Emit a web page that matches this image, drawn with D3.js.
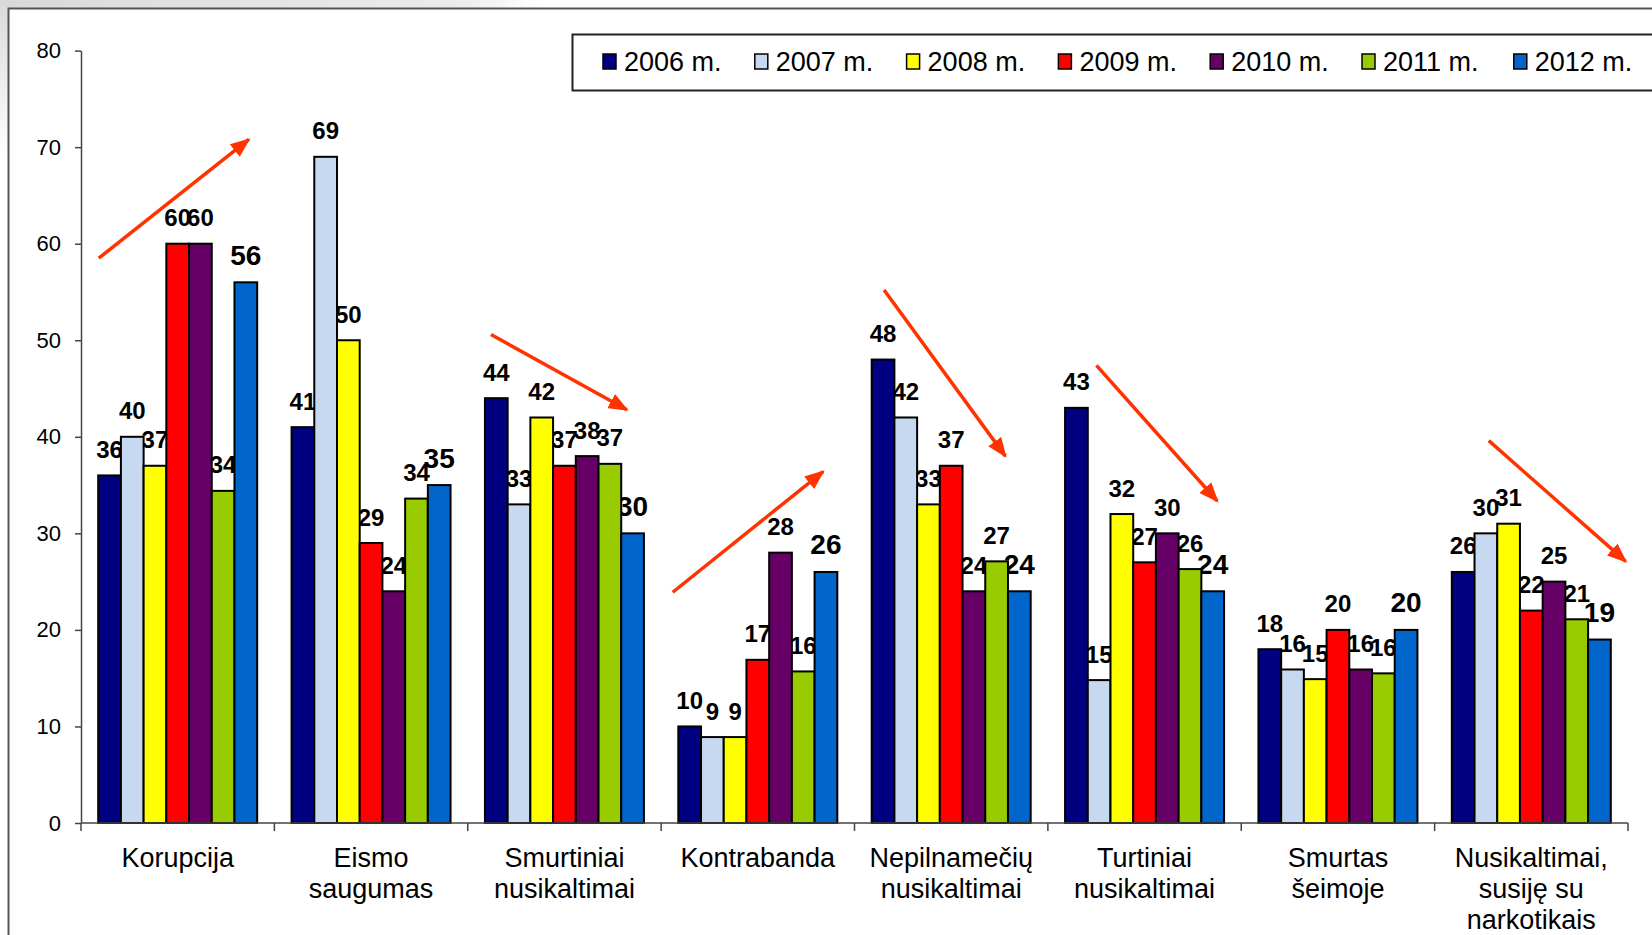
<!DOCTYPE html>
<html>
<head>
<meta charset="utf-8">
<script src="https://cdn.jsdelivr.net/npm/d3@7"></script>
<style>
  body { margin: 0; background: #fff; }
  svg { display: block; font-family: "Liberation Sans", Arial, sans-serif; }
</style>
</head>
<body>
<div id="chart"></div>
<script>
// categories (each label split in lines)
var categories = ['Korupcija', 'Eismo saugumas', 'Smurtiniai nusikaltimai', 'Kontrabanda',
    'Nepilnamečių nusikaltimai', 'Turtiniai nusikaltimai', 'Smurtas šeimoje', 'Nusikaltimai, susiję su narkotikais']
var catLines = [['Korupcija'], ['Eismo', 'saugumas'], ['Smurtiniai', 'nusikaltimai'], ['Kontrabanda'],
    ['Nepilnamečių', 'nusikaltimai'], ['Turtiniai', 'nusikaltimai'], ['Smurtas', 'šeimoje'],
    ['Nusikaltimai,', 'susiję su', 'narkotikais']]

var years = ['2006 m.', '2007 m.', '2008 m.', '2009 m.', '2010 m.', '2011 m.', '2012 m.']
var colors = ['#000080', '#c6d9f0', '#ffff00', '#ff0000', '#660066', '#99cc00', '#0066cc']

// values per year, in category order
var v2006 = [36, 41, 44, 10, 48, 43, 18, 26]
var v2007 = [40, 69, 33, 8.9, 42, 14.8, 15.9, 30]
var v2008 = [37, 50, 42, 8.9, 33, 32, 14.9, 31]
var v2009 = [60, 29, 37, 16.9, 37, 27, 20, 22]
var v2010 = [60, 24, 38, 28, 24, 30, 15.9, 25]
var v2011 = [34.4, 33.6, 37.2, 15.7, 27.1, 26.3, 15.5, 21.1]
var v2012 = [56, 35, 30, 26, 24, 24, 20, 19]
var series = [v2006, v2007, v2008, v2009, v2010, v2011, v2012]

var yTicks = [0, 10, 20, 30, 40, 50, 60, 70, 80]

// trend arrows: category, start/end position inside band (0..1) and value
var arrows = [
    { cat: 0, f0: 0.092, v0: 58.5, f1: 0.868, v1: 70.8 },
    { cat: 2, f0: 0.12, v0: 50.6, f1: 0.823, v1: 42.8 },
    { cat: 3, f0: 0.06, v0: 23.9, f1: 0.838, v1: 36.4 },
    { cat: 4, f0: 0.153, v0: 55.2, f1: 0.78, v1: 38.0 },
    { cat: 5, f0: 0.251, v0: 47.4, f1: 0.876, v1: 33.35 },
    { cat: 7, f0: 0.28, v0: 39.6, f1: 0.988, v1: 27.1 }
]

var W = 1652, H = 935
var plotLeft = 81, plotRight = 1628, plotTop = 50.6, plotBottom = 823

var svg = d3.select('#chart').append('svg')
    .attr('width', W)
    .attr('height', H)

var defs = svg.append('defs')
var grad = defs.append('linearGradient').attr('id', 'bgfade')
grad.append('stop').attr('offset', '0%').attr('stop-color', '#d9d9d9')
grad.append('stop').attr('offset', '85%').attr('stop-color', '#ececec')
grad.append('stop').attr('offset', '100%').attr('stop-color', '#fff')
var gradV = defs.append('linearGradient').attr('id', 'bgfadev')
    .attr('x1', 0).attr('y1', 0).attr('x2', 0).attr('y2', 1)
gradV.append('stop').attr('offset', '0%').attr('stop-color', '#d9d9d9')
gradV.append('stop').attr('offset', '100%').attr('stop-color', '#fff')

defs.append('marker')
    .attr('id', 'head')
    .attr('markerUnits', 'userSpaceOnUse')
    .attr('viewBox', '0 0 20 16')
    .attr('refX', 18).attr('refY', 8)
    .attr('markerWidth', 20).attr('markerHeight', 16)
    .attr('orient', 'auto')
    .append('path')
    .attr('d', 'M0,0 L20,8 L0,16 Z')
    .attr('fill', '#ff3300')

// background outside the frame
svg.append('rect').attr('width', W).attr('height', H).attr('fill', '#fff')
svg.append('rect').attr('x', 0).attr('y', 0).attr('width', 540).attr('height', 8).attr('fill', 'url(#bgfade)')
svg.append('rect').attr('x', 0).attr('y', 0).attr('width', 8).attr('height', 160).attr('fill', 'url(#bgfadev)')

// frame
svg.append('path')
    .attr('d', 'M8.5,' + H + ' V8.5 H' + W)
    .attr('fill', 'none')
    .attr('stroke', '#555')
    .attr('stroke-width', 2)

// scales
var y = d3.scaleLinear().domain([0, 80]).range([plotBottom, plotTop])
var x0 = d3.scaleBand().domain(categories).range([plotLeft, plotRight])
var x1 = d3.scaleBand().domain(years).range([0, x0.bandwidth()])
    .paddingInner(0).paddingOuter(0.757)

// y axis
var yAxis = d3.axisLeft(y)
    .tickValues(yTicks)
    .tickSize(6)
    .tickSizeOuter(0)
    .tickPadding(14)
var gy = svg.append('g')
    .attr('transform', 'translate(' + plotLeft + ',0)')
    .call(yAxis)
gy.select('.domain').attr('stroke', '#444').attr('stroke-width', 1.5)
gy.selectAll('.tick line').attr('stroke', '#444').attr('stroke-width', 1.5)
gy.selectAll('.tick text')
    .attr('fill', '#000')
    .style('font-size', '22px')
    .style('font-family', '"Liberation Sans", Arial, sans-serif')

// arrows drawn under the labels and bars
svg.append('g').selectAll('line')
    .data(arrows)
    .enter().append('line')
    .attr('x1', function (d) { return x0(categories[d.cat]) + d.f0 * x0.step() })
    .attr('y1', function (d) { return y(d.v0) })
    .attr('x2', function (d) { return x0(categories[d.cat]) + d.f1 * x0.step() })
    .attr('y2', function (d) { return y(d.v1) })
    .attr('stroke', '#ff3300')
    .attr('stroke-width', 3.5)
    .attr('marker-end', 'url(#head)')

// flatten data
var flat = []
series.forEach(function (vals, si) {
    vals.forEach(function (v, ci) {
        flat.push({ cat: categories[ci], year: years[si], si: si, v: v })
    })
})

// labels first, so the neighbouring bars hide part of them
svg.append('g').selectAll('text')
    .data(flat)
    .enter().append('text')
    .attr('x', function (d) { return x0(d.cat) + x1(d.year) + x1.bandwidth() / 2 })
    .attr('y', function (d) { return y(d.v) - 17.5 })
    .attr('text-anchor', 'middle')
    .style('font-weight', 'bold')
    .style('font-size', function (d) { return d.si === 6 ? '28px' : '24px' })
    .text(function (d) { return Math.round(d.v) })

// bars
svg.append('g').selectAll('rect')
    .data(flat)
    .enter().append('rect')
    .attr('x', function (d) { return x0(d.cat) + x1(d.year) })
    .attr('y', function (d) { return y(d.v) })
    .attr('width', x1.bandwidth())
    .attr('height', function (d) { return y(0) - y(d.v) })
    .attr('fill', function (d) { return colors[d.si] })
    .attr('stroke', '#000')
    .attr('stroke-width', 2)

// x axis line with ticks on category borders
var gx = svg.append('g')
gx.append('line')
    .attr('x1', plotLeft).attr('x2', plotRight)
    .attr('y1', plotBottom).attr('y2', plotBottom)
    .attr('stroke', '#444').attr('stroke-width', 1.5)
var borders = categories.map(function (c) { return x0(c) }).concat([plotRight])
gx.selectAll('.btick')
    .data(borders)
    .enter().append('line')
    .attr('class', 'btick')
    .attr('x1', function (d) { return d }).attr('x2', function (d) { return d })
    .attr('y1', plotBottom).attr('y2', plotBottom + 8)
    .attr('stroke', '#444').attr('stroke-width', 1.5)

// category labels
var cl = svg.append('g').selectAll('text')
    .data(categories)
    .enter().append('text')
    .attr('text-anchor', 'middle')
    .style('font-size', '27px')
    .attr('transform', function (d) { return 'translate(' + (x0(d) + x0.bandwidth() / 2) + ',867)' })
cl.selectAll('tspan')
    .data(function (d, i) { return catLines[i] })
    .enter().append('tspan')
    .attr('x', 0)
    .attr('y', function (d, i) { return i * 31 })
    .text(function (d) { return d })

// legend
var lg = svg.append('g')
lg.append('rect')
    .attr('x', 572.5).attr('y', 34.5)
    .attr('width', 1200).attr('height', 56)
    .attr('fill', '#fff')
    .attr('stroke', '#222')
    .attr('stroke-width', 2)
var item = lg.selectAll('.item')
    .data(years)
    .enter().append('g')
    .attr('class', 'item')
    .attr('transform', function (d, i) { return 'translate(' + (603 + i * 151.8) + ',0)' })
item.append('rect')
    .attr('x', 0).attr('y', 54)
    .attr('width', 13).attr('height', 15)
    .attr('fill', function (d, i) { return colors[i] })
    .attr('stroke', '#000')
    .attr('stroke-width', 1.5)
item.append('text')
    .attr('x', 21).attr('y', 71)
    .style('font-size', '27px')
    .text(function (d) { return d })
</script>
</body>
</html>
